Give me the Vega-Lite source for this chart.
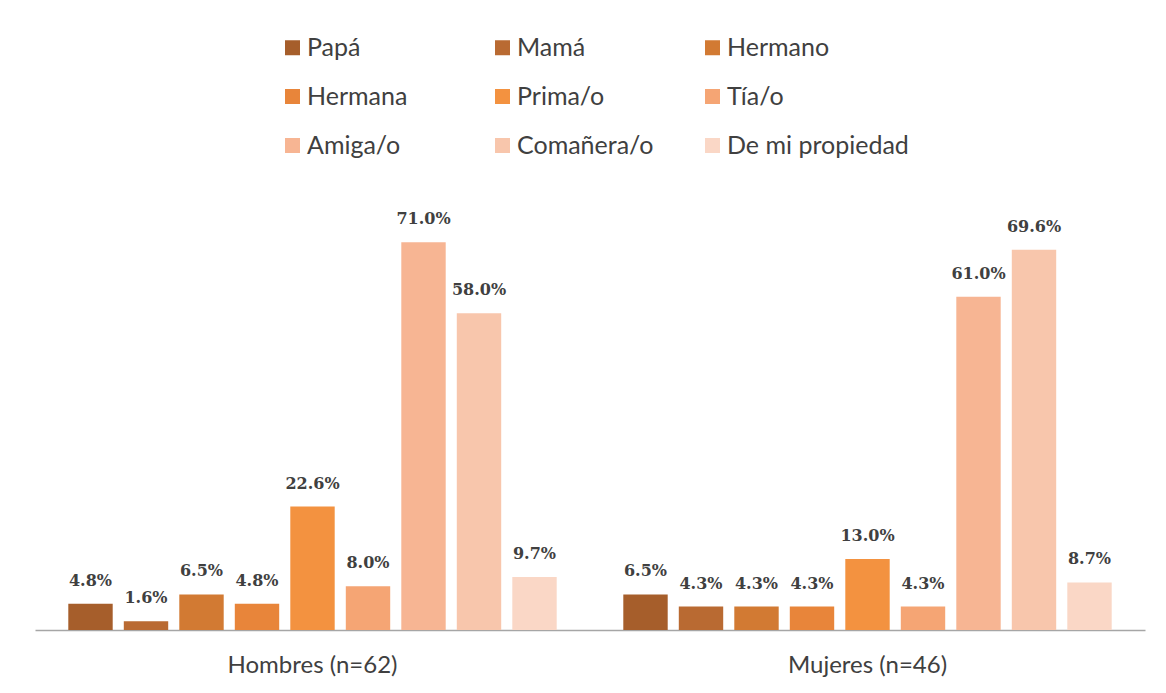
{
  "$schema": "https://vega.github.io/schema/vega-lite/v6.json",
  "autosize": {"type": "none"},
  "width": 1110,
  "height": 437,
  "padding": {"left": 35, "top": 193, "right": 21, "bottom": 63},
  "background": "white",
  "config": {"view": {"stroke": null}},
  "data": {
    "values": [
      {"grupo": "Hombres (n=62)", "cat": "Papá", "pct": 0.048},
      {"grupo": "Hombres (n=62)", "cat": "Mamá", "pct": 0.016},
      {"grupo": "Hombres (n=62)", "cat": "Hermano", "pct": 0.065},
      {"grupo": "Hombres (n=62)", "cat": "Hermana", "pct": 0.048},
      {"grupo": "Hombres (n=62)", "cat": "Prima/o", "pct": 0.226},
      {"grupo": "Hombres (n=62)", "cat": "Tía/o", "pct": 0.080},
      {"grupo": "Hombres (n=62)", "cat": "Amiga/o", "pct": 0.710},
      {"grupo": "Hombres (n=62)", "cat": "Comañera/o", "pct": 0.580},
      {"grupo": "Hombres (n=62)", "cat": "De mi propiedad", "pct": 0.097},
      {"grupo": "Mujeres (n=46)", "cat": "Papá", "pct": 0.065},
      {"grupo": "Mujeres (n=46)", "cat": "Mamá", "pct": 0.043},
      {"grupo": "Mujeres (n=46)", "cat": "Hermano", "pct": 0.043},
      {"grupo": "Mujeres (n=46)", "cat": "Hermana", "pct": 0.043},
      {"grupo": "Mujeres (n=46)", "cat": "Prima/o", "pct": 0.130},
      {"grupo": "Mujeres (n=46)", "cat": "Tía/o", "pct": 0.043},
      {"grupo": "Mujeres (n=46)", "cat": "Amiga/o", "pct": 0.610},
      {"grupo": "Mujeres (n=46)", "cat": "Comañera/o", "pct": 0.696},
      {"grupo": "Mujeres (n=46)", "cat": "De mi propiedad", "pct": 0.087}
    ]
  },
  "encoding": {
    "x": {
      "field": "grupo",
      "type": "nominal",
      "scale": {"paddingInner": 0, "paddingOuter": 0},
      "axis": {
        "title": null,
        "labelAngle": 0,
        "ticks": false,
        "domainColor": "#A6A6A6",
        "domainWidth": 1.5,
        "labelFont": "Lato",
        "labelFontSize": 24,
        "labelColor": "#404040",
        "labelPadding": 23
      }
    },
    "xOffset": {
      "field": "cat",
      "type": "nominal",
      "sort": ["Papá", "Mamá", "Hermano", "Hermana", "Prima/o", "Tía/o", "Amiga/o", "Comañera/o", "De mi propiedad"],
      "scale": {"paddingInner": 0.2, "paddingOuter": 0.6}
    },
    "y": {
      "field": "pct",
      "type": "quantitative",
      "scale": {"domain": [0, 0.8]},
      "axis": null
    }
  },
  "layer": [
    {
      "mark": {"type": "bar"},
      "encoding": {
        "color": {
          "field": "cat",
          "type": "nominal",
          "scale": {
            "domain": ["Papá", "Mamá", "Hermano", "Hermana", "Prima/o", "Tía/o", "Amiga/o", "Comañera/o", "De mi propiedad"],
            "range": ["#A65E2B", "#B96A32", "#D27A33", "#E8853A", "#F39240", "#F5A574", "#F7B593", "#F8C6AC", "#FAD7C6"]
          },
          "legend": {
            "title": null,
            "orient": "none",
            "legendX": 245,
            "legendY": -158,
            "direction": "horizontal",
            "columns": 3,
            "gridAlign": "all",
            "columnPadding": 1,
            "rowPadding": 23,
            "symbolType": "square",
            "symbolSize": 225,
            "symbolStrokeWidth": 0,
            "symbolOpacity": 1,
            "labelFont": "Lato",
            "labelFontSize": 25,
            "labelColor": "#404040",
            "labelOffset": 2,
            "labelLimit": 300
          }
        }
      }
    },
    {
      "mark": {
        "type": "text",
        "baseline": "bottom",
        "dy": -15,
        "font": "DejaVu Serif",
        "fontSize": 16,
        "fontWeight": "bold",
        "color": "#404040"
      },
      "encoding": {
        "text": {"field": "pct", "type": "quantitative", "format": ".1%"}
      }
    }
  ]
}
